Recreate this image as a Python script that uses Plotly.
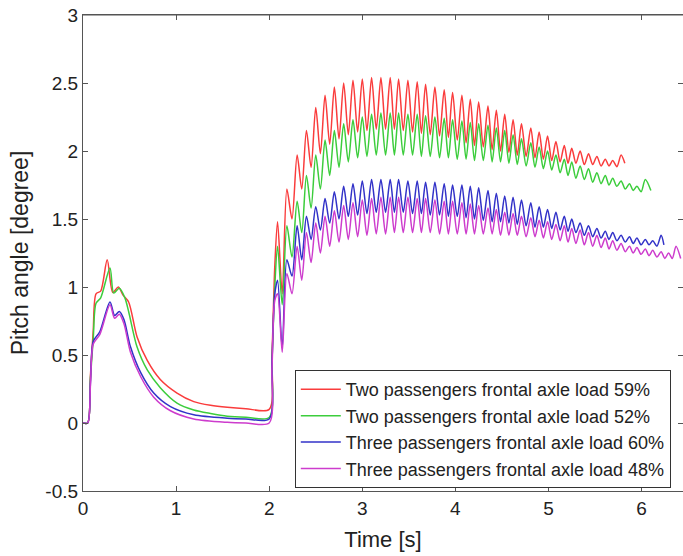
import plotly.graph_objects as go

# ---------------- data ----------------
series_names = [
    "Two passengers frontal axle load 59%",
    "Two passengers frontal axle load 52%",
    "Three passengers frontal axle load 60%",
    "Three passengers frontal axle load 48%",
]
series_colors = ["rgb(250,60,60)", "rgb(60,205,60)", "rgb(50,50,200)", "rgb(205,60,205)"]

# first manoeuvre (0 - 2 s)
red_t0 = [0, 0.05, 0.08, 0.11, 0.14, 0.19, 0.26, 0.32, 0.38, 0.43, 0.49, 0.58, 0.69, 0.83, 1.01, 1.19, 1.37, 1.55, 1.75, 2.0, 2.03, 2.06]
red_v0 = [0, 0, 0.35, 0.68, 0.95, 0.97, 1.20, 0.96, 1.00, 0.94, 0.89, 0.635, 0.46, 0.32, 0.22, 0.157, 0.13, 0.115, 0.105, 0.10, 0.5, 1.15]
green_t0 = [0, 0.05, 0.08, 0.11, 0.14, 0.19, 0.29, 0.33, 0.39, 0.45, 0.49, 0.58, 0.69, 0.83, 1.01, 1.19, 1.37, 1.55, 1.75, 2.0, 2.03, 2.06]
green_v0 = [0, 0, 0.33, 0.62, 0.88, 0.92, 1.14, 0.955, 0.99, 0.92, 0.82, 0.56, 0.39, 0.26, 0.147, 0.096, 0.07, 0.05, 0.042, 0.04, 0.45, 1.0]
blue_t0 = [0, 0.05, 0.08, 0.11, 0.18, 0.29, 0.34, 0.39, 0.44, 0.51, 0.62, 0.76, 0.94, 1.19, 1.55, 1.75, 2.0, 2.03, 2.06]
blue_v0 = [0, 0, 0.30, 0.60, 0.67, 0.89, 0.79, 0.82, 0.76, 0.56, 0.37, 0.22, 0.12, 0.06, 0.035, 0.03, 0.03, 0.45, 0.95]
mag_t0 = [0, 0.05, 0.08, 0.11, 0.18, 0.29, 0.34, 0.39, 0.44, 0.51, 0.62, 0.76, 0.94, 1.19, 1.55, 1.75, 2.0, 2.03, 2.06]
mag_v0 = [0, 0, 0.28, 0.58, 0.65, 0.87, 0.77, 0.80, 0.73, 0.52, 0.34, 0.19, 0.09, 0.03, 0.005, 0.0, 0.0, 0.4, 0.9]

# times of the oscillation crests (s)
peak_t = [2.09, 2.19, 2.30, 2.40, 2.50, 2.60, 2.70, 2.80, 2.90, 3.00, 3.10, 3.20, 3.30, 3.39, 3.49, 3.59,
          3.68, 3.78, 3.88, 3.97, 4.07, 4.16, 4.25, 4.35, 4.44, 4.53, 4.62, 4.71, 4.81, 4.90, 4.99, 5.08,
          5.17, 5.25, 5.34, 5.43, 5.52, 5.61, 5.69, 5.78, 5.87, 5.95, 6.04, 6.12, 6.21, 6.29, 6.37]

red_peaks = [1.48, 1.72, 1.97, 2.15, 2.32, 2.41, 2.47, 2.50, 2.52, 2.53, 2.54, 2.54, 2.54, 2.53, 2.52, 2.51,
             2.49, 2.47, 2.45, 2.43, 2.41, 2.38, 2.36, 2.33, 2.30, 2.27, 2.23, 2.20, 2.17, 2.14, 2.11, 2.07,
             2.04, 2.02, 2.00, 1.98, 1.96, 1.94, 1.93, 1.97]
red_troughs = [0.95, 1.50, 1.72, 1.88, 1.98, 2.05, 2.09, 2.12, 2.14, 2.15, 2.16, 2.16, 2.16, 2.15, 2.14, 2.13,
               2.12, 2.11, 2.10, 2.08, 2.06, 2.04, 2.03, 2.01, 2.00, 1.99, 1.97, 1.96, 1.95, 1.94, 1.93, 1.92,
               1.91, 1.91, 1.90, 1.90, 1.89, 1.89, 1.885]
red_end = (5.82, 1.91)

green_peaks = [1.30, 1.45, 1.63, 1.82, 1.97, 2.08, 2.15, 2.20, 2.23, 2.25, 2.27, 2.28, 2.28, 2.28, 2.27, 2.27,
               2.26, 2.25, 2.24, 2.23, 2.22, 2.21, 2.20, 2.19, 2.17, 2.15, 2.12, 2.09, 2.06, 2.03, 2.00, 1.97,
               1.94, 1.92, 1.89, 1.87, 1.84, 1.82, 1.80, 1.78, 1.76, 1.74, 1.79]
green_troughs = [0.87, 1.22, 1.40, 1.58, 1.72, 1.82, 1.88, 1.92, 1.95, 1.96, 1.97, 1.97, 1.97, 1.97, 1.97, 1.96,
                 1.96, 1.95, 1.95, 1.94, 1.94, 1.93, 1.93, 1.92, 1.92, 1.91, 1.90, 1.89, 1.88, 1.87, 1.86, 1.84,
                 1.82, 1.80, 1.79, 1.77, 1.76, 1.75, 1.74, 1.72, 1.71, 1.70]
green_end = (6.10, 1.71)

blue_peaks = [1.05, 1.20, 1.45, 1.52, 1.59, 1.65, 1.70, 1.74, 1.76, 1.78, 1.79, 1.79, 1.79, 1.79, 1.78, 1.78,
              1.77, 1.77, 1.76, 1.75, 1.75, 1.74, 1.73, 1.71, 1.69, 1.67, 1.66, 1.64, 1.62, 1.59, 1.57, 1.55,
              1.52, 1.50, 1.47, 1.45, 1.43, 1.41, 1.40, 1.38, 1.37, 1.36, 1.35, 1.34, 1.38]
blue_troughs = [0.55, 1.08, 1.20, 1.35, 1.42, 1.47, 1.50, 1.52, 1.53, 1.54, 1.55, 1.55, 1.55, 1.55, 1.54, 1.54,
                1.53, 1.53, 1.52, 1.52, 1.51, 1.50, 1.49, 1.48, 1.48, 1.47, 1.46, 1.45, 1.44, 1.44, 1.43, 1.42,
                1.41, 1.40, 1.38, 1.37, 1.36, 1.35, 1.34, 1.33, 1.32, 1.31, 1.31, 1.30]
blue_end = (6.24, 1.31)

mag_peaks = [0.95, 1.10, 1.30, 1.40, 1.47, 1.52, 1.56, 1.60, 1.62, 1.64, 1.65, 1.66, 1.66, 1.66, 1.66, 1.65,
             1.65, 1.64, 1.63, 1.63, 1.62, 1.61, 1.60, 1.58, 1.57, 1.55, 1.54, 1.52, 1.51, 1.49, 1.48, 1.46,
             1.45, 1.43, 1.42, 1.40, 1.38, 1.36, 1.34, 1.32, 1.30, 1.29, 1.28, 1.27, 1.26, 1.25, 1.30]
mag_troughs = [0.52, 0.95, 1.05, 1.18, 1.25, 1.30, 1.33, 1.35, 1.37, 1.38, 1.39, 1.39, 1.40, 1.40, 1.40, 1.40,
               1.40, 1.39, 1.39, 1.39, 1.39, 1.39, 1.39, 1.39, 1.38, 1.38, 1.38, 1.37, 1.37, 1.36, 1.35, 1.34,
               1.33, 1.32, 1.31, 1.30, 1.29, 1.28, 1.27, 1.26, 1.25, 1.24, 1.23, 1.22, 1.21, 1.21]
mag_end = (6.42, 1.21)

x_ticks = [0, 1, 2, 3, 4, 5, 6]
y_ticks = [-0.5, 0, 0.5, 1, 1.5, 2, 2.5, 3]
y_tick_text = ["-0.5", "0", "0.5", "1", "1.5", "2", "2.5", "3"]


def build(t0, v0, peaks, troughs, end):
    t = list(t0)
    v = list(v0)
    for i, p in enumerate(peaks):
        t.append(peak_t[i])
        v.append(p)
        if i < len(troughs):
            t.append((peak_t[i] + peak_t[i + 1]) / 2)
            v.append(troughs[i])
    t.append(end[0])
    v.append(end[1])
    return t, v


curves = [
    build(red_t0, red_v0, red_peaks, red_troughs, red_end),
    build(green_t0, green_v0, green_peaks, green_troughs, green_end),
    build(blue_t0, blue_v0, blue_peaks, blue_troughs, blue_end),
    build(mag_t0, mag_v0, mag_peaks, mag_troughs, mag_end),
]

FONT = "Liberation Sans, Arial, Helvetica, sans-serif"

fig = go.Figure()
for (t, v), name, col in zip(curves, series_names, series_colors):
    fig.add_trace(go.Scatter(
        x=t, y=v, mode="lines", name=name,
        line=dict(color=col, width=1.5, shape="spline", smoothing=0.8),
    ))

axis_common = dict(
    showline=True, linecolor="#555", linewidth=1.2, mirror="ticks",
    ticks="inside", ticklen=5, tickcolor="#555",
    showgrid=False, zeroline=False, automargin=False,
    ticklabeloverflow="allow",
    tickfont=dict(family=FONT, size=19, color="#222"),
)

fig.update_layout(
    width=683, height=556,
    margin=dict(l=83, r=0, t=15, b=65),
    paper_bgcolor="white", plot_bgcolor="white",
    font=dict(family=FONT, color="#222"),
    xaxis=dict(range=[0, 6.445], tickvals=x_ticks,
               title=dict(text="Time [s]", font=dict(family=FONT, size=22, color="#222"), standoff=13),
               **axis_common),
    yaxis=dict(range=[-0.5, 3], tickvals=y_ticks, ticktext=y_tick_text,
               title=dict(text="Pitch angle [degree]", font=dict(family=FONT, size=23, color="#222"), standoff=10),
               **axis_common),
    legend=dict(x=0.353, y=0.254, xanchor="left", yanchor="top",
                bgcolor="white", bordercolor="#333", borderwidth=1,
                font=dict(family=FONT, size=18, color="#222"),
                tracegroupgap=0, itemwidth=40),
    showlegend=True,
    shapes=[dict(type="line", xref="paper", yref="paper", x0=0, x1=1, y0=1, y1=1,
                 line=dict(color="#555", width=1.2), layer="above")],
)

fig.write_html("out.html", config={"displayModeBar": False},
               post_script="document.body.style.margin='0';document.body.style.overflow='hidden';")
